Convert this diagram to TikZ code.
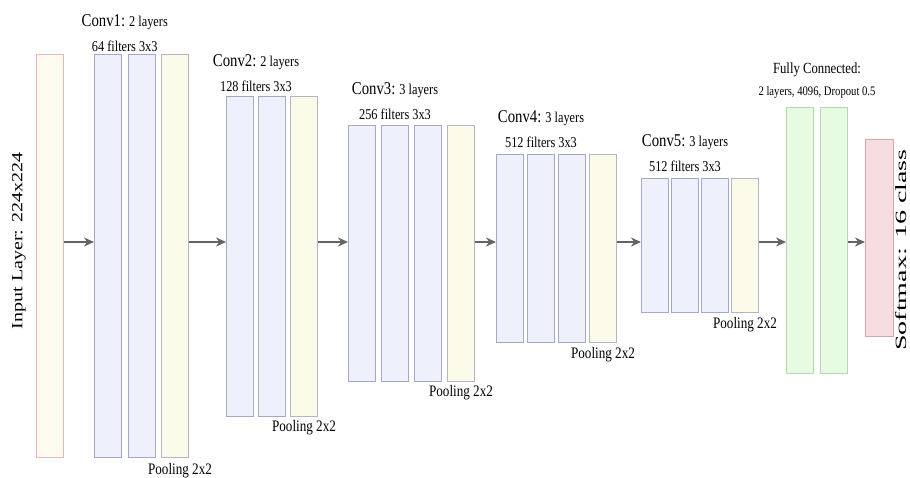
\documentclass[tikz,border=0pt]{standalone}
\usepackage{fontspec}
\setmainfont{Liberation Serif}[FakeStretch=0.82]
\newfontfamily\sidefont{Liberation Serif}
\usetikzlibrary{arrows.meta,positioning,calc}

\definecolor{inline}{RGB}{230,185,180}
\definecolor{infill}{RGB}{253,250,240}
\definecolor{convline}{RGB}{165,168,205}
\definecolor{convfill}{RGB}{238,240,251}
\definecolor{poolline}{RGB}{178,180,200}
\definecolor{poolfill}{RGB}{252,250,232}
\definecolor{fcline}{RGB}{180,218,180}
\definecolor{fcfill}{RGB}{230,251,226}
\definecolor{smline}{RGB}{215,165,172}
\definecolor{smfill}{RGB}{246,221,225}
\definecolor{flowgray}{RGB}{100,100,100}

\begin{document}
\begin{tikzpicture}[
      x=1pt, y=-1pt,
      layer/.style  = {line width=1pt, minimum width=27pt, inner sep=0pt},
      inbox/.style  = {layer, draw=inline, fill=infill},
      convbox/.style= {layer, draw=convline, fill=convfill},
      poolbox/.style= {layer, draw=poolline, fill=poolfill},
      fcbox/.style  = {layer, draw=fcline, fill=fcfill},
      smbox/.style  = {layer, draw=smline, fill=smfill, minimum width=28pt},
      blk1/.style   = {minimum height=403pt},
      blk2/.style   = {minimum height=320pt},
      blk3/.style   = {minimum height=256pt},
      blk4/.style   = {minimum height=188pt},
      blk5/.style   = {minimum height=134pt},
      head/.style   = {inner sep=0pt, align=center, anchor=south,
                       font=\fontsize{15}{25}\selectfont},
      pool/.style   = {inner sep=0pt, font=\fontsize{16}{18}\selectfont},
      arr/.style    = {-{Stealth[length=10pt, width=9pt]}, line width=1.6pt,
                       color=flowgray},
    ]
    \useasboundingbox (0,0) rectangle (910,477);
    \newcommand{\ttl}[1]{{\fontsize{18}{25}\selectfont #1}}

    % input image
    \node[inbox, blk1, anchor=north west] (input) at (36,54) {};
    \node[rotate=90, inner sep=0pt] (inlbl) at (19,241)
         {\sidefont\fontsize{20}{22}\selectfont\scalebox{1}[0.78]{Input Layer: 224x224}};

    % conv block 1
    \node[convbox, blk1, anchor=north west] (c1a) at (94,54) {};
    \node[convbox, blk1, right=5.5pt of c1a] (c1b) {};
    \node[poolbox, blk1, right=5.5pt of c1b] (c1p) {};
    \node[head] (c1lbl) at ($(c1a.north)!.5!(c1b.north)+(0,-2)$)
         {\ttl{Conv1:} 2 layers\\64 filters 3x3};
    \node[pool, below=5pt of c1p, xshift=5pt] (c1pl) {Pooling 2x2};

    % conv block 2
    \node[convbox, blk2, anchor=north west] (c2a) at (226,96) {};
    \node[convbox, blk2, right=4pt of c2a] (c2b) {};
    \node[poolbox, blk2, right=4pt of c2b] (c2p) {};
    \node[head] (c2lbl) at ($(c2a.north)!.5!(c2b.north)+(0,-4)$)
         {\ttl{Conv2:} 2 layers\\128 filters 3x3};
    \node[pool, below=3pt of c2p] (c2pl) {Pooling 2x2};

    % conv block 3
    \node[convbox, blk3, anchor=north west] (c3a) at (348,125) {};
    \node[convbox, blk3, right=5pt of c3a] (c3b) {};
    \node[convbox, blk3, right=5pt of c3b] (c3c) {};
    \node[poolbox, blk3, right=5pt of c3c] (c3p) {};
    \node[head] (c3lbl) at ($(c3b.north)+(0,-5)$)
         {\ttl{Conv3:} 3 layers\\256 filters 3x3};
    \node[pool, below=3pt of c3p] (c3pl) {Pooling 2x2};

    % conv block 4
    \node[convbox, blk4, anchor=north west] (c4a) at (496,154) {};
    \node[convbox, blk4, right=3pt of c4a] (c4b) {};
    \node[convbox, blk4, right=3pt of c4b] (c4c) {};
    \node[poolbox, blk4, right=3pt of c4c] (c4p) {};
    \node[head] (c4lbl) at ($(c4b.north)+(0,-6)$)
         {\ttl{Conv4:} 3 layers\\512 filters 3x3};
    \node[pool, below=4pt of c4p] (c4pl) {Pooling 2x2};

    % conv block 5
    \node[convbox, blk5, anchor=north west] (c5a) at (641,178) {};
    \node[convbox, blk5, right=2pt of c5a] (c5b) {};
    \node[convbox, blk5, right=2pt of c5b] (c5c) {};
    \node[poolbox, blk5, right=2pt of c5c] (c5p) {};
    \node[head] (c5lbl) at ($(c5b.north)+(0,-6)$)
         {\ttl{Conv5:} 3 layers\\512 filters 3x3};
    \node[pool, below=4pt of c5p] (c5pl) {Pooling 2x2};

    % dense part
    \node[fcbox, minimum height=266pt, anchor=north west] (fc1) at (786,107) {};
    \node[fcbox, minimum height=266pt, right=6pt of fc1] (fc2) {};
    \node[head, font=\fontsize{13}{22}\selectfont] (fclbl)
         at ($(fc1.north)!.5!(fc2.north)+(0,-8)$)
         {{\fontsize{15.5}{22}\selectfont Fully Connected:}\\2 layers, 4096, Dropout 0.5};
    \node[smbox, minimum height=197pt, anchor=north west] (sm) at (865,139) {};
    \node[rotate=90, inner sep=0pt] (smlbl) at (901.5,250)
         {\sidefont\fontsize{28}{30}\selectfont\scalebox{1}[0.56]{Softmax: 16 class}};

    % data flow
    \coordinate (flow) at (0,242);
    \draw[arr] (input.east |- flow) -- (c1a.west |- flow);
    \draw[arr] (c1p.east |- flow)   -- (c2a.west |- flow);
    \draw[arr] (c2p.east |- flow)   -- (c3a.west |- flow);
    \draw[arr] (c3p.east |- flow)   -- (c4a.west |- flow);
    \draw[arr] (c4p.east |- flow)   -- (c5a.west |- flow);
    \draw[arr] (c5p.east |- flow)   -- (fc1.west |- flow);
    \draw[arr] (fc2.east |- flow)   -- (sm.west |- flow);
  \end{tikzpicture}
\end{document}
